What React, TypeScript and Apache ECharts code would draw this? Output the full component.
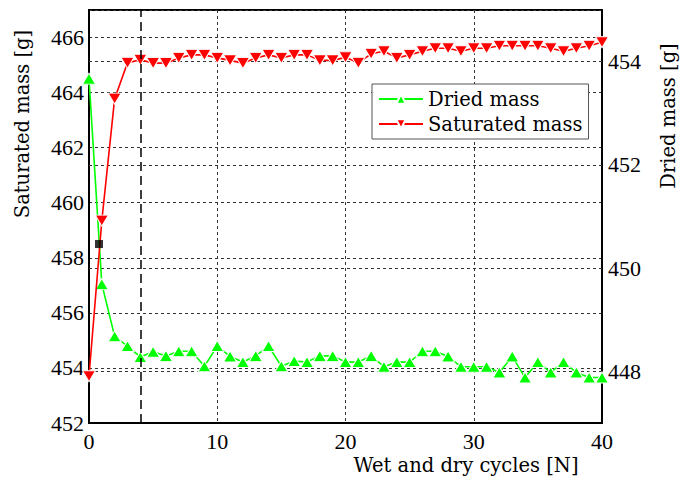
import React, { useEffect, useRef } from "react";
import * as echarts from "echarts";

const cycles = Array.from({ length: 41 }, (_, i) => i);
const saturatedMass = [
  453.7, 459.35, 463.78, 465.08, 465.19, 465.07, 465.07, 465.26, 465.37, 465.37,
  465.26, 465.17, 465.07, 465.26, 465.37, 465.26, 465.37, 465.37, 465.17, 465.17,
  465.28, 465.08, 465.41, 465.5, 465.26, 465.37, 465.5, 465.61, 465.61, 465.5,
  465.61, 465.61, 465.7, 465.7, 465.7, 465.7, 465.61, 465.5, 465.61, 465.7, 465.83,
];
const driedMass = [
  453.67, 449.69, 448.68, 448.49, 448.28, 448.38, 448.3, 448.39, 448.39, 448.1,
  448.49, 448.29, 448.18, 448.3, 448.49, 448.1, 448.2, 448.18, 448.3, 448.3,
  448.18, 448.18, 448.3, 448.09, 448.18, 448.18, 448.39, 448.39, 448.29, 448.09,
  448.09, 448.09, 447.98, 448.29, 447.88, 448.18, 447.98, 448.18, 447.98, 447.88, 447.88,
];
const squarePoint = [[0.78, 458.5]];
const verticalMarker = 4;
const rightTicks = [448, 450, 452, 454];

const NUM_FONT = "Liberation Serif";
const TEXT_FONT = "DejaVu Serif";

export default function App() {
  const ref = useRef<HTMLDivElement>(null);
  useEffect(() => {
    if (!ref.current) return;
    const chart = echarts.init(ref.current, null, { renderer: "svg" });
    const gridLine = { color: "#333", type: [3, 3] as any, width: 1 };
    const tickLabel = { fontFamily: NUM_FONT, fontSize: 22, color: "#000" };
    const nameStyle = {
      fontFamily: TEXT_FONT,
      fontSize: 19.5,
      fill: "#000",
      align: "center",
      verticalAlign: "middle",
    };
    chart.setOption({
      animation: false,
      backgroundColor: "#fff",
      grid: {
        left: 89,
        right: 79,
        top: 10,
        bottom: 54,
        show: true,
        borderColor: "#000",
        borderWidth: 2,
        backgroundColor: "transparent",
      },
      legend: {
        data: ["Dried mass", "Saturated mass"],
        orient: "vertical",
        left: 372,
        top: 84,
        backgroundColor: "#fff",
        borderColor: "#555",
        borderWidth: 1,
        padding: [5, 6, 5, 6],
        itemWidth: 44,
        itemHeight: 12,
        itemGap: 5,
        textStyle: { fontFamily: TEXT_FONT, fontSize: 19.5, color: "#000" },
      },
      xAxis: {
        type: "value",
        min: 0,
        max: 40,
        interval: 10,
        axisLine: { show: true, lineStyle: { color: "#000", width: 2 } },
        axisTick: { show: false },
        axisLabel: { ...tickLabel, margin: 7 },
        splitLine: { show: true, lineStyle: gridLine },
      },
      yAxis: [
        {
          type: "value",
          min: 452,
          max: 467,
          interval: 2,
          axisLine: { show: true, lineStyle: { color: "#000", width: 2 } },
          axisTick: { show: false },
          axisLabel: {
            ...tickLabel,
            margin: 5,
            formatter: (v: number) => (v % 2 === 0 ? String(v) : ""),
          },
          splitLine: { show: true, lineStyle: gridLine },
        },
        {
          type: "value",
          min: 447,
          max: 455,
          interval: 1,
          position: "right",
          axisLine: { show: true, lineStyle: { color: "#000", width: 2 } },
          axisTick: { show: false },
          axisLabel: {
            ...tickLabel,
            margin: 6,
            formatter: (v: number) => (v % 2 === 0 ? String(v) : ""),
          },
          splitLine: { show: false },
        },
      ],
      graphic: [
        {
          type: "text",
          x: 22,
          y: 124,
          rotation: Math.PI / 2,
          style: { ...nameStyle, text: "Saturated mass [g]" },
        },
        {
          type: "text",
          x: 668,
          y: 116,
          rotation: Math.PI / 2,
          style: { ...nameStyle, text: "Dried mass [g]" },
        },
        {
          type: "text",
          x: 466,
          y: 465,
          style: { ...nameStyle, text: "Wet and dry cycles [N]" },
        },
      ],
      series: [
        {
          name: "Dried mass",
          type: "line",
          yAxisIndex: 1,
          data: cycles.map((c, i) => [c, driedMass[i]]),
          symbol: "triangle",
          symbolSize: [13, 11],
          showAllSymbol: true,
          lineStyle: { color: "#00ff00", width: 1.6 },
          itemStyle: { color: "#00ff00", borderColor: "#fff", borderWidth: 1 },
          z: 3,
          markLine: {
            silent: true,
            symbol: "none",
            label: { show: false },
            lineStyle: { color: "#333", type: [3, 3], width: 1 },
            data: rightTicks.map((t) => ({ yAxis: t })),
            z: 1,
          },
        },
        {
          name: "Saturated mass",
          type: "line",
          yAxisIndex: 0,
          data: cycles.map((c, i) => [c, saturatedMass[i]]),
          symbol: "triangle",
          symbolRotate: 180,
          symbolSize: [13, 11],
          showAllSymbol: true,
          lineStyle: { color: "#ff0000", width: 1.6 },
          itemStyle: { color: "#ff0000", borderColor: "#fff", borderWidth: 1 },
          z: 4,
          markLine: {
            silent: true,
            symbol: "none",
            label: { show: false },
            lineStyle: { color: "#000", type: [9, 5], width: 1.5 },
            data: [{ xAxis: verticalMarker }],
          },
        },
        {
          name: "marker",
          type: "scatter",
          yAxisIndex: 0,
          data: squarePoint,
          symbol: "rect",
          symbolSize: 8,
          itemStyle: { color: "#000" },
          z: 5,
        },
      ],
    });
    return () => chart.dispose();
  }, []);
  return (
    <div
      ref={ref}
      style={{ position: "fixed", left: 0, top: 0, width: 681, height: 477 }}
    />
  );
}
